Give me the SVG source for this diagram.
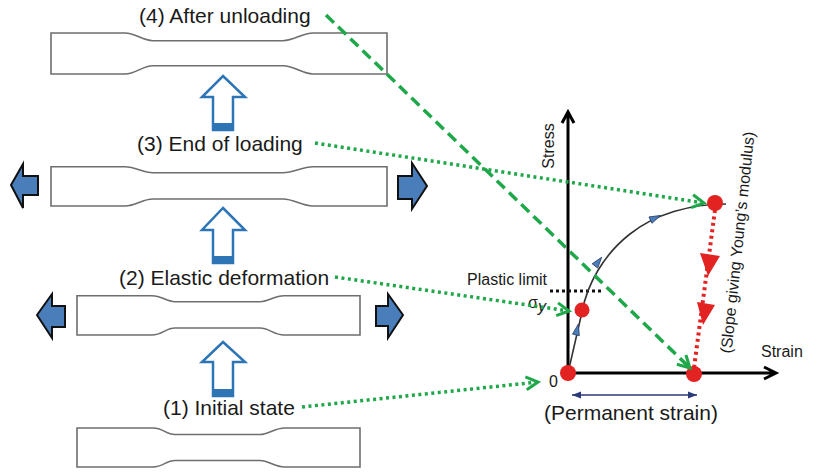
<svg xmlns="http://www.w3.org/2000/svg" width="817" height="472" viewBox="0 0 817 472">
<defs>
<style>
.spec{fill:#fff;stroke:#6e6e6e;stroke-width:1.6}
.up{fill:#fff;stroke:#2e75b6;stroke-width:2.5;stroke-linejoin:miter}
.band{fill:#2e75b6}
.side{fill:#4a7ebb;stroke:#111;stroke-width:2;stroke-linejoin:miter}
.lbl{font-family:"Liberation Sans",Arial,sans-serif;font-size:21px;fill:#1a1a1a}
.sm{font-family:"Liberation Sans",Arial,sans-serif;font-size:16px;fill:#1a1a1a}
.gdot{fill:none;stroke:#1fa84a;stroke-width:3.5;stroke-dasharray:3 3.5}
.gdash{fill:none;stroke:#1fa84a;stroke-width:3.5;stroke-dasharray:11 6}
.axis{fill:none;stroke:#000;stroke-width:3}
.dot{fill:#e32222}
.tri{fill:#4a7ebb;stroke:#2a3f6a;stroke-width:0.8}
</style>
<marker id="chev" markerUnits="userSpaceOnUse" markerWidth="16" markerHeight="16" refX="13" refY="7" orient="auto" viewBox="0 0 16 14">
<path d="M1,0.5 L13,7 L1,13.5" fill="none" stroke="#1fa84a" stroke-width="3"/>
</marker>
<marker id="nav" markerUnits="userSpaceOnUse" markerWidth="10" markerHeight="8" refX="9" refY="4" orient="auto-start-reverse" viewBox="0 0 10 8">
<path d="M0,0.5 L9,4 L0,7.5 Z" fill="#2b3a7a"/>
</marker>
</defs>

<g id="spec4">
<path class="spec" d="M51,33 H125 C136,33 142,40.7 153,40.7 H283 C294,40.7 302,33 313,33 H387 V74 H313 C302,74 294,65.7 283,65.7 H153 C142,65.7 136,74 125,74 H51 Z"/>
<text class="lbl" x="139" y="23">(4) After unloading</text>
</g>

<g id="arrow-up-3">
<path class="up" d="M223,76 L245,97 L233,97 L233,130 L213,130 L213,97 L202,97 Z"/>
<rect class="band" x="213" y="123" width="20" height="7"/>
</g>

<g id="spec3">
<path class="spec" d="M51,166.7 H125 C136,166.7 142,172.7 153,172.7 H283 C294,172.7 302,166.7 313,166.7 H387 V206 H313 C302,206 294,199 283,199 H153 C142,199 136,206 125,206 H51 Z"/>
<text class="lbl" x="137" y="151">(3) End of loading</text>
<path class="side" d="M11,185 L23,164 L23,176 L38,176 L38,195 L23,195 L23,208 Z"/>
<path class="side" d="M398,176 H412 V163 L427,186 L412,209 V199 H398 Z"/>
</g>

<g id="arrow-up-2">
<path class="up" d="M223,208 L245,230 L233,230 L233,263 L213,263 L213,230 L202,230 Z"/>
<rect class="band" x="213" y="256" width="20" height="7"/>
</g>

<g id="spec2">
<path class="spec" d="M77,295.7 H152 C162,295.7 166,301.7 175,301.7 H260 C269,301.7 274,295.7 284,295.7 H360 V335 H284 C274,335 269,328 260,328 H175 C166,328 162,335 152,335 H77 Z"/>
<text class="lbl" x="119" y="285">(2) Elastic deformation</text>
<path class="side" d="M37,315 L52,294 V306 H65 V327 H52 V338 Z"/>
<path class="side" d="M376,306 H388 V294 L403,315 L388,338 V326 H376 Z"/>
</g>

<g id="arrow-up-1">
<path class="up" d="M223,342 L245,362 L233,362 L233,396 L213,396 L213,362 L202,362 Z"/>
<rect class="band" x="213" y="389" width="20" height="7"/>
</g>

<g id="spec1">
<path class="spec" d="M77,428 H153 C163,428 166,434.5 175,434.5 H260 C269,434.5 274,428 285,428 H360 V467 H285 C274,467 269,460.5 260,460.5 H175 C166,460.5 163,467 153,467 H77 Z"/>
<text class="lbl" x="163" y="415">(1) Initial state</text>
</g>

<g id="graph">
<path class="axis" d="M568,375 V113 M562,123 L568,112 L574,123"/>
<path class="axis" d="M566,373 H775 M764,367 L776,373 L764,379"/>
<text class="sm" transform="translate(554,146) rotate(-90)" text-anchor="middle">Stress</text>
<text class="sm" x="761" y="357">Strain</text>
<text class="sm" x="549" y="387">0</text>
<text class="sm" x="467" y="285">Plastic limit</text>
<path d="M550,291 H603" fill="none" stroke="#111" stroke-width="3" stroke-dasharray="3 3"/>
<text class="sm" x="528" y="308">σ<tspan font-style="italic" dy="4">y</tspan></text>
<path d="M568,373 L582,312 C587,285 603,255 630,234 C655,214 690,204 726,204" fill="none" stroke="#333" stroke-width="1.6"/>
<path class="tri" transform="translate(577,330) rotate(-77.5)" d="M6,0 L-5,-3.5 L-5,3.5 Z"/>
<path class="tri" transform="translate(598,262) rotate(-52)" d="M6,0 L-5,-3.5 L-5,3.5 Z"/>
<path class="tri" transform="translate(655,218) rotate(-25)" d="M6,0 L-5,-3.5 L-5,3.5 Z"/>
<path d="M715,210 L694,368" fill="none" stroke="#e32222" stroke-width="4" stroke-dasharray="3 3.5"/>
<path d="M700,253 L720,256 L708,276 Z" fill="#e32222"/>
<path d="M697,302 L715,305 L703,325 Z" fill="#e32222"/>
<circle class="dot" cx="568" cy="373" r="8"/>
<circle class="dot" cx="582" cy="310" r="7.5"/>
<circle class="dot" cx="715" cy="203" r="8"/>
<circle class="dot" cx="694" cy="374" r="8"/>
<path d="M572,395 H697" fill="none" stroke="#2b3a7a" stroke-width="1.6" marker-start="url(#nav)" marker-end="url(#nav)"/>
<text class="lbl" x="544" y="420">(Permanent strain)</text>
<text class="sm" font-size="17" transform="translate(743,243) rotate(-84)" text-anchor="middle">(Slope giving Young’s modulus)</text>
</g>

<g id="connectors">
<path class="gdot" d="M302,407 L538,382" marker-end="url(#chev)"/>
<path class="gdot" d="M335,277 L569,311" marker-end="url(#chev)"/>
<path class="gdot" d="M315,143 L704,203" marker-end="url(#chev)"/>
<path class="gdash" d="M326,15 L690,368" marker-end="url(#chev)"/>
</g>
</svg>
